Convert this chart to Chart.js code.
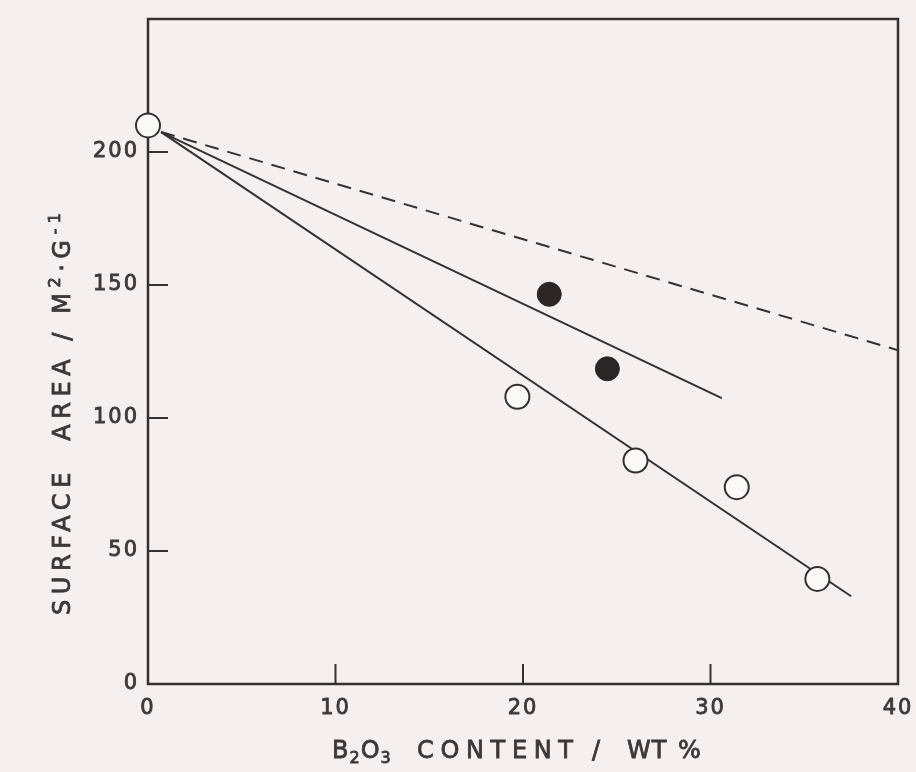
<!DOCTYPE html>
<html>
<head>
<meta charset="utf-8">
<script src="https://cdn.jsdelivr.net/npm/chart.js@4/dist/chart.umd.min.js"></script>
<style>
  html, body { margin: 0; padding: 0; background: #f6efef; }
  #wrap { width: 916px; height: 772px; }
</style>
</head>
<body>
<div id="wrap"><canvas id="chart" width="916" height="772"></canvas></div>
<script>
/* ================= DATA ================= */
// open circles
const openX = [0, 19.7, 26.0, 31.4, 35.7];
const openY = [210, 108, 84, 74, 39.5];
// filled circles
const filledX = [21.4, 24.5];
const filledY = [146.5, 118.5];
// fitted lines (end points)
const lowLineX = [0.7, 37.5];
const lowLineY = [207.5, 33];
const highLineX = [0.7, 30.6];
const highLineY = [207.5, 107.5];
const dashLineX = [0.7, 40];
const dashLineY = [207.5, 125.5];
// axes
const xTicks = [0, 10, 20, 30, 40];
const yTicks = [0, 50, 100, 150, 200];

const INK = "#353030";
const TEXT = "#3d3737";
const FONT = "'DejaVu Sans'";
const BIG = "24px " + FONT;
const SMALL = "16px " + FONT;

const toPoints = (xs, ys) => xs.map((x, i) => ({ x: x, y: ys[i] }));

/* ================= FRAME + INNER TICKS ================= */
const framePlugin = {
  id: "frame",
  beforeDraw(chart) {
    // a little air between tick digits
    chart.ctx.letterSpacing = "2px";
  },
  beforeDatasetsDraw(chart) {
    const { ctx, chartArea: a, scales } = chart;
    ctx.save();
    ctx.strokeStyle = INK;
    ctx.lineWidth = 2.5;
    ctx.strokeRect(a.left, a.top, a.right - a.left, a.bottom - a.top);
    ctx.lineWidth = 2;
    ctx.beginPath();
    yTicks.forEach(v => {
      if (v === 0) return;
      const y = scales.y.getPixelForValue(v);
      ctx.moveTo(a.left, y);
      ctx.lineTo(a.left + 20, y);
    });
    xTicks.forEach(v => {
      if (v === 0 || v === 40) return;
      const x = scales.x.getPixelForValue(v);
      ctx.moveTo(x, a.bottom);
      ctx.lineTo(x, a.bottom - 20);
    });
    ctx.stroke();
    ctx.restore();
  }
};

/* ================= AXIS TITLES ================= */
function paint(ctx, text, x, y) {
  ctx.fillText(text, x, y);
  ctx.strokeText(text, x, y);
}

// draws text from x0; if x1 is given the letters are spread to reach it
function drawChunk(ctx, text, x0, x1, font, shift) {
  ctx.font = font;
  ctx.letterSpacing = "0px";
  let spacing = 1;
  if (x1 && text.length > 1) {
    spacing = (x1 - x0 - ctx.measureText(text).width) / (text.length - 1);
  }
  ctx.letterSpacing = spacing + "px";
  paint(ctx, text, x0, shift);
  return x0 + ctx.measureText(text).width;
}

// parts: [text, shift] ; letters spread evenly over `width`
function drawSpread(ctx, parts, width) {
  ctx.letterSpacing = "0px";
  let natural = 0, count = 0;
  parts.forEach(p => {
    ctx.font = p[1] ? SMALL : BIG;
    natural += ctx.measureText(p[0]).width;
    count += p[0].length;
  });
  ctx.letterSpacing = ((width - natural) / (count - 1)) + "px";
  let x = -width / 2;
  parts.forEach(p => {
    ctx.font = p[1] ? SMALL : BIG;
    paint(ctx, p[0], x, p[1]);
    x += ctx.measureText(p[0]).width;
  });
}

const titlePlugin = {
  id: "titles",
  afterDraw(chart) {
    const { ctx } = chart;
    ctx.save();
    ctx.fillStyle = TEXT;
    ctx.strokeStyle = TEXT;
    ctx.lineWidth = 0.8;
    ctx.textBaseline = "alphabetic";
    ctx.textAlign = "left";

    // x title, baseline at 758
    ctx.save();
    ctx.translate(0, 758);
    let x = drawChunk(ctx, "B", 332, 0, BIG, 0);
    x = drawChunk(ctx, "2", x, 0, SMALL, 5);
    x = drawChunk(ctx, "O", x, 0, BIG, 0);
    drawChunk(ctx, "3", x, 0, SMALL, 5);
    drawChunk(ctx, "CONTENT", 417, 573, BIG, 0);
    drawChunk(ctx, "/", 592, 0, BIG, 0);
    drawChunk(ctx, "WT", 627, 0, BIG, 0);
    drawChunk(ctx, "%", 678, 0, BIG, 0);
    ctx.restore();

    // y title, rotated
    ctx.save();
    ctx.translate(70, 414);
    ctx.rotate(-Math.PI / 2);
    drawSpread(ctx, [["SURFACE  AREA / M", 0], ["2", -10], ["·G", 0], ["-1", -10]], 402);
    ctx.restore();

    ctx.restore();
  }
};

/* ================= CHART ================= */
const tickFont = { family: FONT, size: 21 };

new Chart(document.getElementById("chart"), {
  type: "scatter",
  data: {
    datasets: [
      {
        data: toPoints(openX, openY),
        pointRadius: 12,
        pointBackgroundColor: "#fbf8f8",
        pointBorderColor: INK,
        pointBorderWidth: 2,
        clip: false,
        order: 1
      },
      {
        data: toPoints(filledX, filledY),
        pointRadius: 12,
        pointBackgroundColor: "#2b2525",
        pointBorderColor: "#2b2525",
        pointBorderWidth: 1,
        clip: false,
        order: 1
      },
      {
        type: "line",
        data: toPoints(lowLineX, lowLineY),
        borderColor: INK,
        borderWidth: 2,
        pointRadius: 0,
        order: 2
      },
      {
        type: "line",
        data: toPoints(highLineX, highLineY),
        borderColor: INK,
        borderWidth: 2,
        pointRadius: 0,
        order: 2
      },
      {
        type: "line",
        data: toPoints(dashLineX, dashLineY),
        borderColor: INK,
        borderWidth: 2,
        borderDash: [14, 9],
        pointRadius: 0,
        order: 2
      }
    ]
  },
  options: {
    responsive: false,
    animation: false,
    layout: { padding: { top: 19, right: 18, left: 0, bottom: 0 } },
    plugins: {
      legend: { display: false },
      tooltip: { enabled: false }
    },
    scales: {
      x: {
        type: "linear",
        min: 0,
        max: 40,
        grid: { display: false, drawTicks: false },
        border: { display: false },
        afterBuildTicks: s => { s.ticks = xTicks.map(v => ({ value: v })); },
        afterFit: s => { s.height = 88; s.paddingLeft = 0; s.paddingRight = 0; },
        ticks: {
          padding: 12,
          maxRotation: 0,
          color: TEXT,
          textStrokeColor: TEXT,
          textStrokeWidth: 0.8,
          font: tickFont
        }
      },
      y: {
        type: "linear",
        min: 0,
        max: 250,
        grid: { display: false, drawTicks: false },
        border: { display: false },
        afterBuildTicks: s => { s.ticks = yTicks.map(v => ({ value: v })); },
        afterFit: s => { s.width = 148; s.paddingTop = 0; s.paddingBottom = 0; },
        ticks: {
          padding: 9,
          color: TEXT,
          textStrokeColor: TEXT,
          textStrokeWidth: 0.8,
          font: tickFont
        }
      }
    }
  },
  plugins: [framePlugin, titlePlugin]
});
</script>
</body>
</html>
